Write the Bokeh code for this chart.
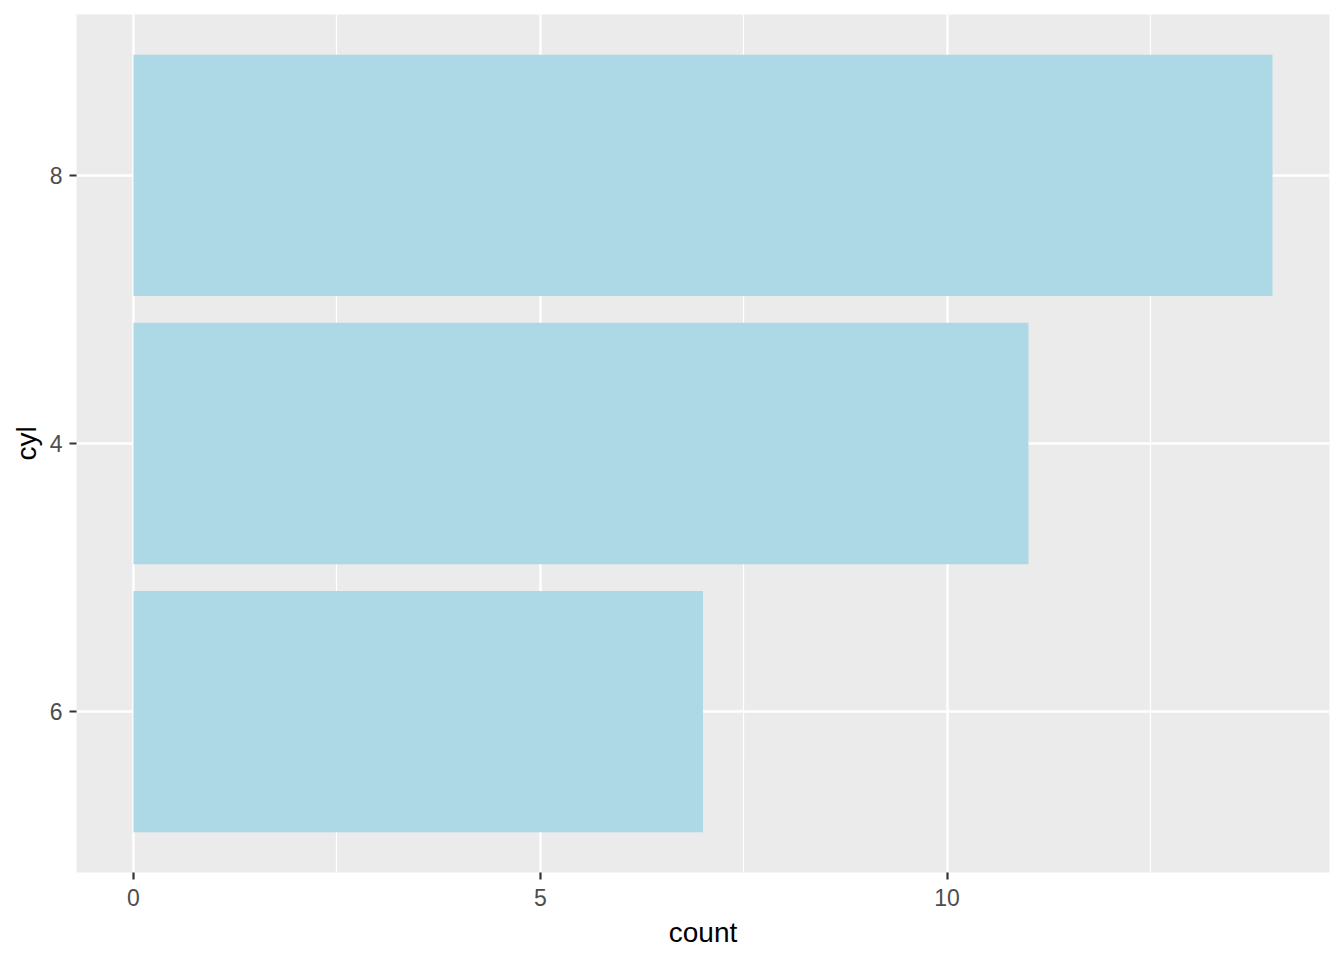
from bokeh.plotting import figure
from bokeh.models import FactorRange, Range1d, SingleIntervalTicker, ColumnDataSource
from bokeh.embed import file_html
from bokeh.resources import INLINE

cyl = ["6", "4", "8"]
counts = [7, 11, 14]

src = ColumnDataSource(dict(cyl=cyl, count=counts))

p = figure(
    y_range=FactorRange(factors=cyl, range_padding=0.1, range_padding_units="absolute"),
    x_range=Range1d(-0.7, 14.7),
    frame_width=1253, frame_height=858,
    min_border_left=76, min_border_right=7, min_border_top=14, min_border_bottom=80,
    output_backend="svg", toolbar_location=None,
)
p.hbar(y="cyl", left=0, right="count", height=0.9, source=src,
       fill_color="#ADD8E6", line_color=None)

p.background_fill_color = "#EBEBEB"
p.border_fill_color = "white"
p.outline_line_color = None

p.xaxis.ticker = SingleIntervalTicker(interval=5, num_minor_ticks=2)
p.xgrid.grid_line_color = "white"
p.xgrid.grid_line_width = 2.4
p.xgrid.minor_grid_line_color = "white"
p.xgrid.minor_grid_line_width = 1.2
p.ygrid.grid_line_color = "white"
p.ygrid.grid_line_width = 2.4

for ax in (p.xaxis, p.yaxis):
    ax.axis_line_color = None
    ax.major_tick_line_color = "#333333"
    ax.major_tick_line_width = 2.2
    ax.major_tick_out = 7
    ax.major_tick_in = 0
    ax.minor_tick_line_color = None
    ax.major_label_text_font = "Liberation Sans"
    ax.major_label_text_font_size = "23px"
    ax.major_label_text_color = "#4D4D4D"
    ax.axis_label_text_font = "Liberation Sans"
    ax.axis_label_text_font_size = "28px"
    ax.axis_label_text_font_style = "normal"
    ax.axis_label_text_color = "black"

p.xaxis.axis_label = "count"
p.yaxis.axis_label = "cyl"
p.xaxis.major_label_standoff = 9
p.xaxis.axis_label_standoff = 8
p.yaxis.major_label_standoff = 7
p.yaxis.axis_label_standoff = 5

open("out.html", "w").write(file_html(p, INLINE))
